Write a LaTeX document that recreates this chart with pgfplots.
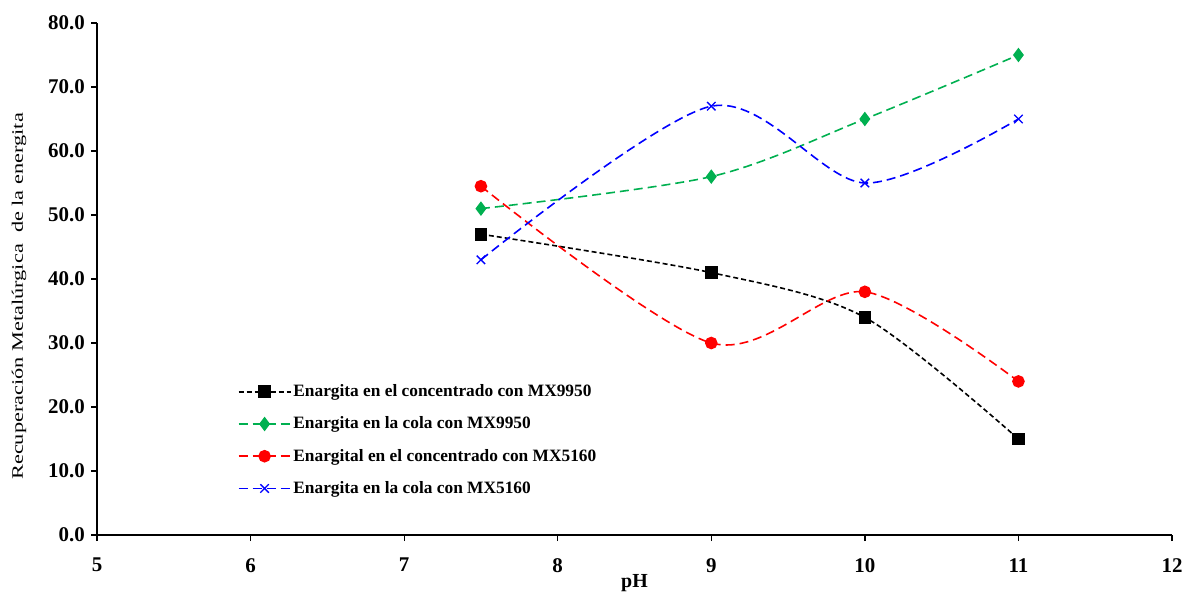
\documentclass[border=0pt]{standalone}
\usepackage{graphicx}
\usepackage{pgfplots}
\pgfplotsset{compat=1.18}
\usepackage{fontspec}
\setmainfont{Liberation Serif}
\definecolor{cgreen}{RGB}{0,176,80}
\begin{document}
\fontsize{15}{18}\selectfont
\begin{tikzpicture}
\begin{axis}[
  scale only axis,
  width=1075bp, height=512bp,
  xmin=5, xmax=12, ymin=0, ymax=80,
  xtick={5,6,...,12},
  ytick={0,10,...,80},
  axis lines=left,
  axis line style={line width=1.6pt, -},
  tick style={line width=1.3pt, black},
  tick align=outside,
  major tick length=6bp,
  yticklabel style={font=\fontsize{21}{24}\selectfont\bfseries, xshift=-1bp, /pgf/number format/.cd, fixed, fixed zerofill, precision=1},
  xticklabel style={font=\fontsize{21}{24}\selectfont\bfseries, yshift=-12bp},
  /pgf/number format/assume math mode=true,
  xlabel={\bfseries pH},
  ylabel={\scalebox{1.4}[1]{Recuperación Metalúrgica\ \ de la energita}},
  xlabel style={font=\fontsize{20}{24}\selectfont, at={(axis description cs:0.5,0)}, anchor=center, yshift=-48bp},
  ylabel style={font=\fontsize{16}{18}\selectfont, at={(axis description cs:-0.0726,0.466)}, anchor=center},
  legend style={draw=none, fill=none, at={(0.128,0.302)}, anchor=north west,
     font=\fontsize{17.4}{20}\selectfont\bfseries, row sep=14bp},
  legend cell align=left,
  legend image code/.code={\draw[mark repeat=2,mark phase=2,#1] plot coordinates {(0bp,0bp) (26bp,0bp) (52bp,0bp)};},
  every axis plot/.append style={line width=1.6pt, smooth, tension=0.5},
]
\addplot[black, dash pattern=on 5bp off 3bp, mark=square*, mark size=5.5bp, mark options={solid}] coordinates {(7.5,47) (9,41) (10,34) (11,15)};
\addlegendentry{Enargita en el concentrado con MX9950}
\addplot[cgreen, dash pattern=on 9bp off 5bp, mark=diamond*, mark size=6bp, mark options={solid}] coordinates {(7.5,51) (9,56) (10,65) (11,75)};
\addlegendentry{Enargita en la cola con MX9950}
\addplot[red, dash pattern=on 9bp off 5bp, mark=*, mark size=5.5bp, mark options={solid}] coordinates {(7.5,54.5) (9,30) (10,38) (11,24)};
\addlegendentry{Enargital en el concentrado con MX5160}
\addplot[blue, dash pattern=on 9bp off 5bp, mark=x, mark size=6bp, mark options={solid, line width=1.3pt}] coordinates {(7.5,43) (9,67) (10,55) (11,65)};
\addlegendentry{Enargita en la cola con MX5160}
\end{axis}
\pgfresetboundingbox
\path ([xshift=-97bp,yshift=-59bp]current axis.south west) rectangle ([xshift=10bp,yshift=23bp]current axis.north east);
\end{tikzpicture}
\end{document}
